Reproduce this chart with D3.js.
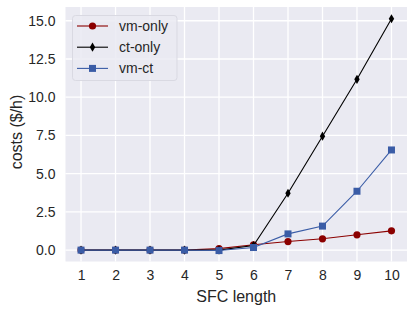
<!DOCTYPE html>
<html lang="en">
<head>
<meta charset="UTF-8">
<title>SFC costs</title>
<script src="https://d3js.org/d3.v7.min.js"></script>
<style>
  body { margin: 0; background: #fff; }
  svg text { font-family: "Liberation Sans", Arial, sans-serif; fill: #262626; }
</style>
</head>
<body>
<svg id="chart" width="415" height="311"></svg>
<script>
// data
var sfcLength = [1, 2, 3, 4, 5, 6, 7, 8, 9, 10]
var vmOnly = [0, 0, 0, 0, 0.1, 0.35, 0.56, 0.74, 1.0, 1.26]
var ctOnly = [0, 0, 0, 0, 0, 0.3, 3.72, 7.45, 11.17, 15.13]
var vmCt = [0, 0, 0, 0, -0.03, 0.17, 1.06, 1.57, 3.85, 6.55]
var yTicks = [0, 2.5, 5, 7.5, 10, 12.5, 15]

var series = [
  { name: 'vm-only', values: vmOnly, color: '#8b0000', marker: 'circle' },
  { name: 'ct-only', values: ctOnly, color: '#000000', marker: 'diamond' },
  { name: 'vm-ct', values: vmCt, color: '#3a5ca6', marker: 'square' }
]

const margin = { top: 7, right: 8, bottom: 49.5, left: 65.5 }
const width = 415, height = 311

const svg = d3.select('#chart')

const x = d3.scaleLinear().domain([0.55, 10.45]).range([margin.left, width - margin.right])
const y = d3.scaleLinear().domain([-0.745, 15.9]).range([height - margin.bottom, margin.top])

// background
svg.append('rect')
  .attr('x', margin.left).attr('y', margin.top)
  .attr('width', width - margin.left - margin.right)
  .attr('height', height - margin.top - margin.bottom)
  .attr('fill', '#eaeaf2')

// grid
svg.append('g').selectAll('line').data(sfcLength).enter().append('line')
  .attr('x1', d => x(d)).attr('x2', d => x(d))
  .attr('y1', margin.top).attr('y2', height - margin.bottom)
  .attr('stroke', '#fff').attr('stroke-width', 1.3)
svg.append('g').selectAll('line').data(yTicks).enter().append('line')
  .attr('y1', d => y(d)).attr('y2', d => y(d))
  .attr('x1', margin.left).attr('x2', width - margin.right)
  .attr('stroke', '#fff').attr('stroke-width', 1.3)

// axes (labels only, seaborn style)
const xAxis = svg.append('g')
  .attr('transform', `translate(0,${height - margin.bottom})`)
  .call(d3.axisBottom(x).tickValues(sfcLength).tickSize(0).tickPadding(9).tickFormat(d3.format('d')))
xAxis.select('.domain').remove()
xAxis.selectAll('text').attr('font-size', 14).attr('fill', '#262626')

const yAxis = svg.append('g')
  .attr('transform', `translate(${margin.left},0)`)
  .call(d3.axisLeft(y).tickValues(yTicks).tickSize(0).tickPadding(10).tickFormat(d3.format('.1f')))
yAxis.select('.domain').remove()
yAxis.selectAll('text').attr('font-size', 14).attr('fill', '#262626')

svg.append('text')
  .attr('x', (margin.left + width - margin.right) / 2)
  .attr('y', 302)
  .attr('text-anchor', 'middle')
  .attr('font-size', 16)
  .text('SFC length')

svg.append('text')
  .attr('transform', `translate(22,132) rotate(-90)`)
  .attr('text-anchor', 'middle')
  .attr('font-size', 16)
  .text('costs ($/h)')

function drawMarker(g, type, color) {
  if (type == 'circle') {
    g.append('circle').attr('r', 3.6).attr('fill', color)
  }
  if (type == 'square') {
    g.append('rect').attr('x', -3.5).attr('y', -3.5).attr('width', 7).attr('height', 7).attr('fill', color)
  }
  if (type == 'diamond') {
    g.append('path').attr('d', 'M0,-4.6L2.7,0L0,4.6L-2.7,0Z').attr('fill', color)
  }
}

const line = d3.line()
  .x((d, i) => x(sfcLength[i]))
  .y(d => y(d))

series.forEach(function(s) {
  svg.append('path')
    .datum(s.values)
    .attr('d', line)
    .attr('fill', 'none')
    .attr('stroke', s.color)
    .attr('stroke-width', 1.1)
  s.values.forEach(function(v, i) {
    var g = svg.append('g').attr('transform', `translate(${x(sfcLength[i])},${y(v)})`)
    drawMarker(g, s.marker, s.color)
  })
})

// legend
const legend = svg.append('g')
legend.append('rect')
  .attr('x', 72.5).attr('y', 15.5)
  .attr('width', 104.5).attr('height', 65)
  .attr('rx', 3)
  .attr('fill', '#eaeaf2').attr('fill-opacity', 0.85)
  .attr('stroke', '#d9d9e2')
series.forEach(function(s, i) {
  var ly = 26 + i * 21.2
  legend.append('line')
    .attr('x1', 77).attr('x2', 108).attr('y1', ly).attr('y2', ly)
    .attr('stroke', s.color).attr('stroke-width', 1.1)
  var g = legend.append('g').attr('transform', `translate(92.5,${ly})`)
  drawMarker(g, s.marker, s.color)
  legend.append('text')
    .attr('x', 119).attr('y', ly + 5)
    .attr('font-size', 14)
    .text(s.name)
})
</script>
</body>
</html>
